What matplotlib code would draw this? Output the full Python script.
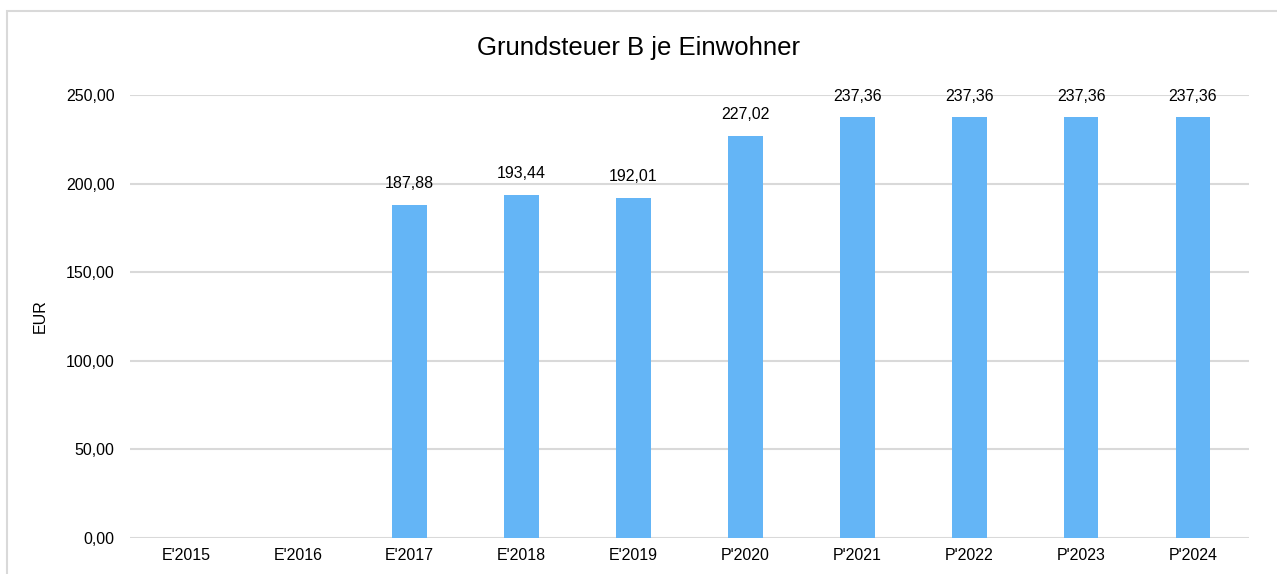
# Grundsteuer B je Einwohner - bar chart
import numpy as np
import matplotlib.pyplot as plt
from matplotlib.patches import Rectangle

plt.rcParams['font.family'] = ['Liberation Sans', 'DejaVu Sans']

# Data
categories = ["E'2015", "E'2016", "E'2017", "E'2018", "E'2019",
              "P'2020", "P'2021", "P'2022", "P'2023", "P'2024"]
values = [np.nan, np.nan, 187.88, 193.44, 192.01, 227.02, 237.36, 237.36, 237.36, 237.36]

fig = plt.figure(figsize=(12.77, 5.74), dpi=100)

# light frame round the chart area
fig.patches.append(Rectangle((7 / 1277, -0.1), 1.2, 1 - 11 / 574 + 0.1,
                             transform=fig.transFigure, fill=False,
                             edgecolor="#d9d9d9", linewidth=1.5))

ax = fig.add_axes([130 / 1277, 1 - 538 / 574, (1249 - 130) / 1277, (538 - 95) / 574])

x = np.arange(len(categories))
bars = ax.bar(x, np.nan_to_num(values), width=0.31, color="#64b5f6", zorder=3)

# Data labels
for xi, v in zip(x, values):
    if not np.isnan(v):
        ax.annotate(f"{v:.2f}".replace(".", ","), (xi, v), xytext=(0, 10),
                    textcoords="offset points", ha="center", va="bottom",
                    fontsize=11.5, color="black")

ax.set_xlim(-0.5, len(categories) - 0.5)
ax.set_ylim(0, 250)
ax.set_yticks(np.arange(0, 251, 50))
ax.set_yticklabels([f"{t:.2f}".replace(".", ",") for t in np.arange(0, 251, 50)])
ax.set_xticks(x)
ax.set_xticklabels(categories)
ax.tick_params(axis="both", length=0, labelsize=11.5, colors="black")
ax.tick_params(axis="y", pad=11)
ax.tick_params(axis="x", pad=7)

ax.grid(axis="y", color="#d9d9d9", linewidth=1.5, zorder=0)
for s in ax.spines.values():
    s.set_visible(False)

ax.set_ylabel("EUR", fontsize=11.5, color="black", labelpad=13)

fig.text(0.5, 1 - 48 / 574, "Grundsteuer B je Einwohner", ha="center", va="center",
         fontsize=18.5, color="black")

plt.savefig("out.png", dpi=100)
